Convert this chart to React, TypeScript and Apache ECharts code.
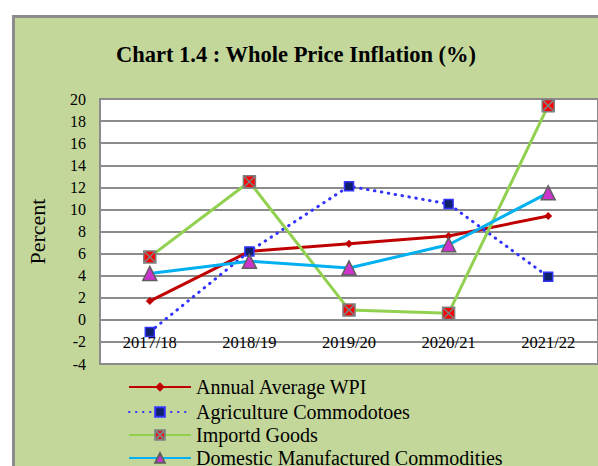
import React, { useEffect, useRef } from "react";
import * as echarts from "echarts";

const categories = ["2017/18", "2018/19", "2019/20", "2020/21", "2021/22"];
const wpi = [1.7, 6.2, 6.9, 7.6, 9.4];
const agriculture = [-1.1, 6.2, 12.1, 10.5, 3.9];
const imported = [5.7, 12.5, 0.9, 0.6, 19.4];
const domestic = [4.2, 5.3, 4.7, 6.8, 11.5];
const seriesNames = [
  "Annual Average WPI",
  "Agriculture Commodotoes",
  "Importd Goods",
  "Domestic Manufactured Commodities",
];

const SERIF = "Liberation Serif, Times New Roman, serif";
const GRAY = "#8c8c8c";
const legendTops = [372, 397, 420, 443];

export default function App() {
  const ref = useRef<HTMLDivElement>(null);
  useEffect(() => {
    if (!ref.current) return;
    const chart = echarts.init(ref.current, null, { renderer: "svg" });
    chart.setOption({
      animation: false,
      backgroundColor: "#ffffff",
      graphic: [
        {
          type: "rect",
          z: -100,
          shape: { x: 13.5, y: 16.5, width: 600, height: 460 },
          style: { fill: "#c4d79b", stroke: GRAY, lineWidth: 3 },
        },
      ],
      title: {
        text: "Chart 1.4 : Whole Price Inflation (%)",
        left: 291,
        textAlign: "center",
        top: 38,
        textStyle: { fontFamily: SERIF, fontSize: 22.5, fontWeight: "bold", color: "#000" },
      },
      grid: {
        left: 100,
        top: 99,
        width: 500,
        height: 265,
        show: true,
        backgroundColor: "#ffffff",
        borderColor: GRAY,
        borderWidth: 2,
        containLabel: false,
      },
      legend: seriesNames.map((n, i) => ({
        orient: "vertical",
        left: 123,
        top: legendTops[i],
        itemWidth: 62,
        itemHeight: 12,
        itemGap: 6,
        data: [n],
        textStyle: { fontFamily: SERIF, fontSize: 20, color: "#000" },
      })),
      xAxis: {
        type: "category",
        data: categories,
        boundaryGap: true,
        axisLine: { onZero: true, lineStyle: { color: GRAY, width: 2 } },
        axisTick: { show: false },
        axisLabel: { fontFamily: SERIF, fontSize: 16.5, color: "#000", margin: -30 },
      },
      yAxis: {
        type: "value",
        min: -4,
        max: 20,
        interval: 2,
        name: "Percent",
        nameLocation: "middle",
        nameRotate: 90,
        nameGap: 52,
        nameTextStyle: { fontFamily: SERIF, fontSize: 22, color: "#000" },
        axisLine: { show: false },
        axisTick: { show: false },
        axisLabel: { fontFamily: SERIF, fontSize: 16, color: "#000", margin: 14 },
        splitLine: { lineStyle: { color: GRAY, width: 2 } },
      },
      series: [
        {
          name: seriesNames[0],
          type: "line",
          data: wpi,
          symbol: "diamond",
          symbolSize: 8,
          lineStyle: { color: "#c00000", width: 3 },
          itemStyle: { color: "#c00000" },
          z: 3,
        },
        {
          name: seriesNames[1],
          type: "line",
          data: agriculture,
          symbol: "rect",
          symbolSize: 9,
          lineStyle: { color: "#3333ff", width: 3, type: [0.5, 6.5], cap: "round" },
          itemStyle: { color: "#10206a", borderColor: "#3333ff", borderWidth: 1.5 },
          z: 4,
        },
        {
          name: seriesNames[2],
          type: "line",
          data: imported,
          symbol: "path://M0,0H10V10H0Z M0,0L10,10 M10,0L0,10",
          symbolSize: 12,
          lineStyle: { color: "#92d050", width: 3 },
          itemStyle: { color: "#ff0000", borderColor: "#7f7f7f", borderWidth: 1.5 },
          z: 5,
        },
        {
          name: seriesNames[3],
          type: "line",
          data: domestic,
          symbol: "triangle",
          symbolSize: 14,
          lineStyle: { color: "#00b0f0", width: 3 },
          itemStyle: { color: "#cc33cc", borderColor: "#5f5f5f", borderWidth: 1.5 },
          z: 6,
        },
      ],
    });
    return () => chart.dispose();
  }, []);
  return (
    <div
      ref={ref}
      style={{ position: "fixed", left: 0, top: 0, width: 598, height: 466 }}
    />
  );
}
